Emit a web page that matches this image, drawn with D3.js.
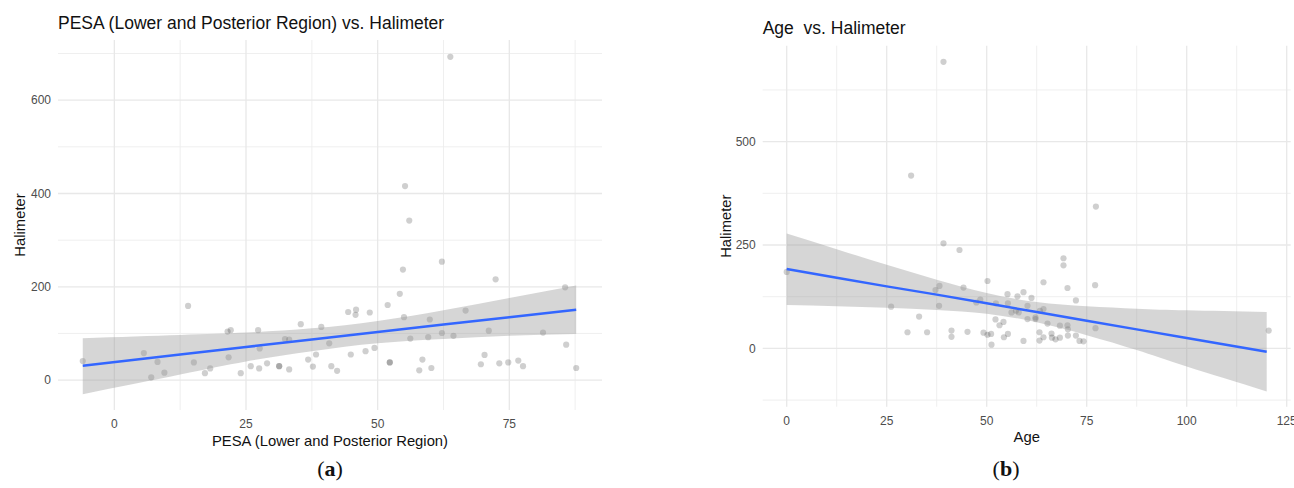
<!DOCTYPE html>
<html>
<head>
<meta charset="utf-8">
<script src="https://cdn.jsdelivr.net/npm/d3@7"></script>
<style>
  body { margin: 0; background: #fff; }
  svg { display: block; }
  text { font-family: "Liberation Sans", Arial, Helvetica, sans-serif; }
</style>
</head>
<body>
<svg id="chart" width="1294" height="488"></svg>
<script>
// ---------------------------------------------------------------- data (a)
var pesaX = [-6, 14, 5.6, 8.2, 7, 9.5, 15.1, 17.2, 18.2, 21.5, 22.1, 21.7, 24, 25.9, 27.3, 27.6, 27.5, 29, 31.3, 31.3,
  32.4, 33.2, 33.2, 35.4, 36.8, 39.3, 40.8, 38.3, 37.7, 41.2, 42.3, 44.4, 45.9, 45.8, 48.5, 44.9, 47.7, 49.4, 51.9, 54.2,
  55, 52.3, 52.3, 56.2, 58.5, 57.9, 60.2, 59.9, 59.6, 62.2, 64.4, 66.7, 72.4, 71.1, 69.6, 70.3, 73.1, 74.8, 76.7, 77.6,
  81.4, 85.6, 85.8, 87.7, 55.2, 56, 54.8, 62.2, 63.8];
var halA = [41, 159, 58, 39, 6, 16, 38, 15, 25, 104, 107, 49, 15, 30, 107, 68, 25, 36, 30, 30,
  88, 87, 23, 120, 44, 114, 79, 55, 29, 30, 20, 146, 151, 140, 145, 55, 62, 69, 161, 185,
  135, 38, 38, 89, 44, 21, 26, 130, 92, 101, 95, 149, 216, 106, 34, 54, 36, 38, 42, 30,
  102, 199, 76, 26, 416, 342, 237, 254, 693];
// fitted lm line and 95% band
var fitXA = [-6, 12.5, 25, 37.5, 50, 62.5, 75, 87.7];
var fitYA = [31, 55, 71, 87, 103, 119, 135, 151];
var loA = [-30, 12, 40, 62, 79, 88, 95, 99];
var hiA = [90, 97, 102, 111, 127, 150, 176, 203];

// ---------------------------------------------------------------- data (b)
var ageX = [39.2, 31.1, 39.2, 43.2, 0, 26.1, 33.1, 30.2, 35.1, 41.2, 41.2, 45.2, 49.2, 50.2, 51.1, 51.2, 50.2, 38.2, 37.2, 38.1,
  44.2, 47.4, 48.4, 52.2, 53.2, 54.2, 54.3, 55.3, 55.2, 52.3, 55.3, 56.2, 57.3, 58, 57.7, 59.2, 61.2, 60.2, 59.2, 60.2,
  62.2, 62.2, 64.2, 63.3, 64.2, 65.2, 63.2, 64.2, 63.2, 66.2, 66.3, 67.2, 68.3, 68.3, 70.2, 70.3, 70.3, 69.2, 69.2, 70.2,
  72.3, 72.3, 73.2, 74.2, 77.1, 77.2, 77.3, 120.5];
var halB = [693, 418, 254, 238, 185, 101, 77, 39, 39, 43, 28, 40, 38, 33, 35, 9, 163, 151, 141, 103,
  147, 111, 118, 70, 56, 64, 27, 35, 131, 109, 109, 87, 91, 87, 126, 136, 122, 103, 18, 71,
  75, 71, 160, 91, 95, 60, 39, 27, 19, 36, 26, 22, 26, 55, 56, 46, 31, 201, 218, 146,
  116, 31, 18, 17, 153, 49, 343, 43];
var fitXB = [0, 12.5, 25, 37.5, 50, 62.5, 75, 87.5, 100, 120];
var fitYB = [192, 171, 150, 130, 109, 88, 67, 46, 25, -8];
var loB = [105, 102, 98, 93, 84, 63, 32, -4, -44, -104];
var hiB = [278, 240, 202, 166, 134, 112, 102, 96, 92, 88];

// ticks
var xTicksA = [0, 25, 50, 75], xMinorA = [12.5, 37.5, 62.5, 87.5];
var yTicksA = [0, 200, 400, 600], yMinorA = [100, 300, 500, 700];
var xTicksB = [0, 25, 50, 75, 100, 125], xMinorB = [12.5, 37.5, 62.5, 87.5, 112.5];
var yTicksB = [0, 250, 500], yMinorB = [-125, 125, 375, 625];

var svg = d3.select("#chart");

function drawPanel(p) {
  var x = d3.scaleLinear().domain(p.xDomain).range([p.left, p.right]);
  var y = d3.scaleLinear().domain(p.yDomain).range([p.bottom, p.top]);
  var g = svg.append("g");

  // grid
  g.selectAll(".gxm").data(p.xMinor).enter().append("line")
    .attr("x1", d => x(d)).attr("x2", d => x(d)).attr("y1", p.top).attr("y2", p.bottom)
    .attr("stroke", "#ededed").attr("stroke-width", 0.9);
  g.selectAll(".gym").data(p.yMinor).enter().append("line")
    .attr("y1", d => y(d)).attr("y2", d => y(d)).attr("x1", p.left).attr("x2", p.right)
    .attr("stroke", "#ededed").attr("stroke-width", 0.9);
  g.selectAll(".gx").data(p.xTicks).enter().append("line")
    .attr("x1", d => x(d)).attr("x2", d => x(d)).attr("y1", p.top).attr("y2", p.bottom)
    .attr("stroke", "#e8e8e8").attr("stroke-width", 1.3);
  g.selectAll(".gy").data(p.yTicks).enter().append("line")
    .attr("y1", d => y(d)).attr("y2", d => y(d)).attr("x1", p.left).attr("x2", p.right)
    .attr("stroke", "#e8e8e8").attr("stroke-width", 1.3);

  // points
  g.selectAll(".pt").data(d3.range(p.px.length)).enter().append("circle")
    .attr("cx", i => x(p.px[i])).attr("cy", i => y(p.py[i])).attr("r", 3.1)
    .attr("fill", "#000").attr("fill-opacity", 0.19);

  // band + line
  var idx = d3.range(p.fx.length);
  var area = d3.area().curve(d3.curveNatural)
    .x(i => x(p.fx[i])).y0(i => y(p.lo[i])).y1(i => y(p.hi[i]));
  g.append("path").attr("d", area(idx)).attr("fill", "#999").attr("fill-opacity", 0.4);
  var line = d3.line().x(i => x(p.fx[i])).y(i => y(p.fy[i]));
  g.append("path").attr("d", line(idx)).attr("fill", "none")
    .attr("stroke", "#3366FF").attr("stroke-width", 2.5);

  // tick labels
  g.selectAll(".tx").data(p.xTicks).enter().append("text")
    .attr("x", d => x(d)).attr("y", p.bottom + p.xLabOff).attr("text-anchor", "middle")
    .attr("font-size", 12).attr("fill", "#4d4d4d").text(d => d);
  g.selectAll(".ty").data(p.yTicks).enter().append("text")
    .attr("x", p.left - 7).attr("y", d => y(d)).attr("dy", "0.35em").attr("text-anchor", "end")
    .attr("font-size", 12).attr("fill", "#4d4d4d").text(d => d);

  // titles
  g.append("text").attr("x", p.left).attr("y", p.titleY).attr("font-size", 17.5)
    .attr("fill", "#111").style("white-space", "pre").text(p.title);
  g.append("text").attr("x", (p.left + p.right) / 2).attr("y", p.xTitleY)
    .attr("text-anchor", "middle").attr("font-size", 14.8).attr("fill", "#111").text(p.xTitle);
  g.append("text").attr("transform", "translate(" + p.yTitleX + "," + (p.top + p.bottom) / 2 + ") rotate(-90)")
    .attr("text-anchor", "middle").attr("font-size", 14.8).attr("fill", "#111").text("Halimeter");

  // caption
  var cap = g.append("text").attr("x", p.capX).attr("y", 476).attr("text-anchor", "middle")
    .attr("font-size", 22).style("font-family", "'Liberation Serif', 'DejaVu Serif', serif").attr("fill", "#111");
  cap.append("tspan").text("(");
  cap.append("tspan").attr("font-weight", "bold").text(p.cap);
  cap.append("tspan").text(")");
}

drawPanel({
  xDomain: [-10.7, 92.6], yDomain: [-64, 729],
  left: 58, right: 602, top: 40, bottom: 410,
  xTicks: xTicksA, xMinor: xMinorA, yTicks: yTicksA, yMinor: yMinorA,
  px: pesaX, py: halA, fx: fitXA, fy: fitYA, lo: loA, hi: hiA,
  title: "PESA (Lower and Posterior Region) vs. Halimeter", titleY: 29,
  xTitle: "PESA (Lower and Posterior Region)", xTitleY: 446, xLabOff: 18, yTitleX: 24.5,
  cap: "a", capX: 330
});

drawPanel({
  xDomain: [-6, 126], yDomain: [-141, 732],
  left: 762.7, right: 1290.7, top: 45.7, bottom: 406.7,
  xTicks: xTicksB, xMinor: xMinorB, yTicks: yTicksB, yMinor: yMinorB,
  px: ageX, py: halB, fx: fitXB, fy: fitYB, lo: loB, hi: hiB,
  title: "Age  vs. Halimeter", titleY: 34.3,
  xTitle: "Age", xTitleY: 441.5, xLabOff: 18, yTitleX: 730.5,
  cap: "b", capX: 1006
});
</script>
</body>
</html>
